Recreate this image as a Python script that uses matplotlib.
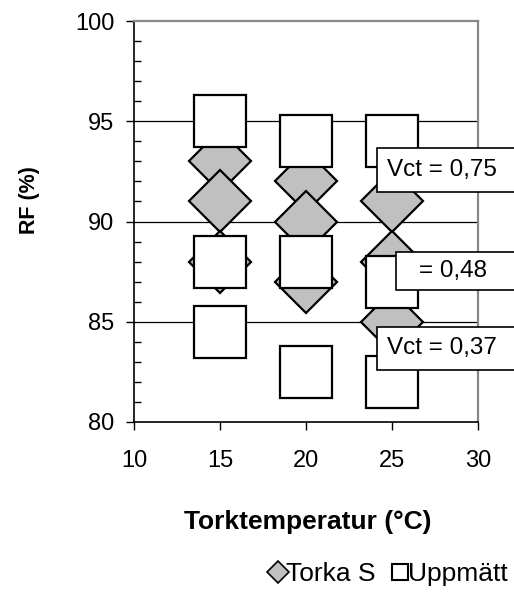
import matplotlib
matplotlib.use("Agg")
import matplotlib.pyplot as plt
from matplotlib.lines import Line2D
from matplotlib.patches import Rectangle

plt.rcParams['font.family'] = ['Liberation Sans', 'DejaVu Sans']

# Data
torka_x = [15, 15, 15, 20, 20, 20, 25, 25, 25]
torka_y = [93, 91, 88, 92, 90, 87, 91, 88, 85]
uppmatt_x = [15, 15, 15, 20, 20, 20, 25, 25, 25]
uppmatt_y = [95, 88, 84.5, 94, 88, 82.5, 94, 87, 82]
x_ticks = [10, 15, 20, 25, 30]
y_ticks = [80, 85, 90, 95, 100]
labels = ["Vct = 0,75", "= 0,48", "Vct = 0,37"]

W, H = 514, 592
fig = plt.figure(figsize=(W / 100, H / 100), dpi=100)
ax = fig.add_axes([134 / W, 1 - 422 / H, 344 / W, 401 / H])

ax.set_xlim(10, 30)
ax.set_ylim(80, 100)
ax.set_xticks(x_ticks)
ax.set_yticks(y_ticks)
ax.set_yticks(range(80, 101), minor=True)
ax.tick_params(axis='both', which='major', direction='out', length=6, width=1,
               labelsize=17, color='black')
ax.tick_params(axis='y', which='major', pad=8)
ax.tick_params(axis='x', which='major', pad=14)
ax.tick_params(axis='y', which='minor', direction='in', length=5, width=1)

for yv in [85, 90, 95]:
    ax.axhline(yv, color='black', lw=0.9, zorder=1)

ax.spines['left'].set_color('black')
ax.spines['bottom'].set_color('black')
ax.spines['left'].set_linewidth(1.2)
ax.spines['bottom'].set_linewidth(1.2)
ax.spines['top'].set_color('#888888')
ax.spines['right'].set_color('#888888')
ax.spines['top'].set_linewidth(1.6)
ax.spines['right'].set_linewidth(1.6)

for xv, yv in zip(torka_x, torka_y):
    ax.plot([xv], [yv], marker='D', ms=31.5, mfc='#c0c0c0', mec='black',
            mew=1.6, ls='none', zorder=3, clip_on=False)
for xv, yv in zip(uppmatt_x, uppmatt_y):
    ax.plot([xv], [yv], marker='s', ms=37, mfc='white', mec='black',
            mew=1.6, ls='none', zorder=4, clip_on=False)

fig.text(29 / W, 1 - 200 / H, "RF (%)", rotation=90, ha='center', va='center',
         fontsize=15.5, fontweight='bold')
fig.text(308 / W, 1 - 522 / H, "Torktemperatur (°C)", ha='center', va='center',
         fontsize=19, fontweight='bold')

# Label boxes (figure pixel coords)
boxes = [(377.3, 148.3, 191.7, 386.7), (396, 252.3, 290, 419), (377.3, 326.7, 370, 386.7)]
for (bx, top, bot, tx), lab in zip(boxes, labels):
    fig.patches.append(Rectangle((bx / W, 1 - bot / H), (W + 10 - bx) / W, (bot - top) / H,
                                 transform=fig.transFigure, fc='white', ec='black',
                                 lw=1.2, zorder=10))
    fig.text(tx / W, 1 - (top + bot) / 2 / H, lab, ha='left', va='center',
             fontsize=17.5, zorder=11)

handles = [Line2D([], [], marker='D', ms=11, mfc='#c0c0c0', mec='black', mew=1.2, ls='none'),
           Line2D([], [], marker='s', ms=12, mfc='white', mec='black', mew=1.5, ls='none')]
fig.legend(handles, ["Torka S", "Uppmätt"], loc='center right',
           bbox_to_anchor=(508 / W, 1 - 574 / H), ncol=2, frameon=False,
           fontsize=19, handletextpad=-0.15, columnspacing=0.5, handlelength=0.9,
           borderaxespad=0, borderpad=0)

fig.savefig("out.png", dpi=100)
